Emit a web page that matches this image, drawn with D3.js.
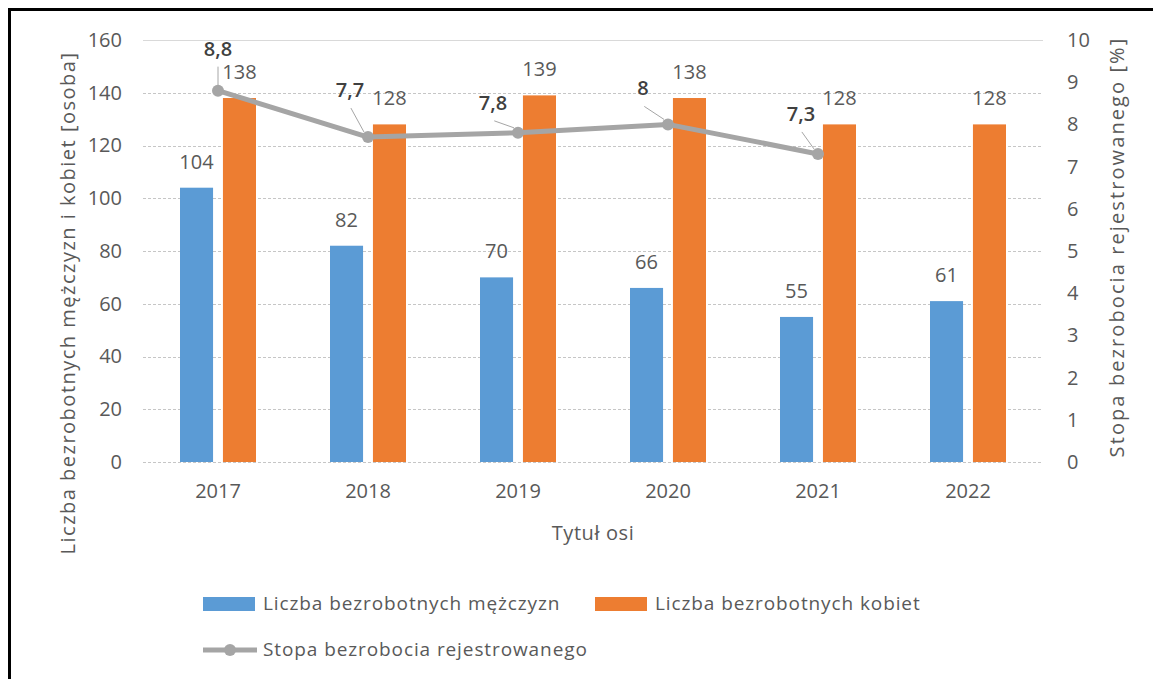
<!DOCTYPE html>
<html lang="pl">
<head>
<meta charset="UTF-8">
<title>Bezrobocie</title>
<script src="https://d3js.org/d3.v7.min.js"></script>
<style>
  body { margin: 0; background: #fff; }
  svg text { font-family: "Open Sans", sans-serif; fill: #595959; }
</style>
</head>
<body>
<svg id="chart" width="1153" height="679"></svg>
<script>
// data
const years = ["2017", "2018", "2019", "2020", "2021", "2022"];
const men = [104, 82, 70, 66, 55, 61];
const women = [138, 128, 139, 138, 128, 128];
const rate = [8.8, 7.7, 7.8, 8, 7.3, null];
const leftTicks = [0, 20, 40, 60, 80, 100, 120, 140, 160];
const rightTicks = [0, 1, 2, 3, 4, 5, 6, 7, 8, 9, 10];
const seriesNames = ["Liczba bezrobotnych mężczyzn", "Liczba bezrobotnych kobiet", "Stopa bezrobocia rejestrowanego"];

// manual label placement for the line labels (moved by hand in the original)
const rateLabelShift = [[0, -42], [-18, -47], [-25, -30], [-25, -36], [-17, -40]];

const colors = { men: "#5b9bd5", women: "#ed7d31", line: "#a5a5a5" };

const svg = d3.select("#chart");
const plot = { left: 143, right: 1043, top: 40, bottom: 462 };

// frame
svg.append("line").attr("x1", 8).attr("x2", 1153).attr("y1", 9.5).attr("y2", 9.5)
  .attr("stroke", "#000").attr("stroke-width", 3);
svg.append("line").attr("x1", 9.5).attr("x2", 9.5).attr("y1", 8).attr("y2", 679)
  .attr("stroke", "#000").attr("stroke-width", 3);

const x = d3.scaleBand().domain(years).range([plot.left, plot.right]);
const x1 = d3.scaleBand().domain([0, 1]).range([37, 113]).paddingInner(0.23);
const y = d3.scaleLinear().domain([0, 160]).range([plot.bottom, plot.top]);
const y2 = d3.scaleLinear().domain([0, 10]).range([plot.bottom, plot.top]);

// gridlines
svg.append("g").selectAll("line").data(leftTicks).join("line")
  .attr("x1", plot.left).attr("x2", plot.right)
  .attr("y1", d => Math.round(y(d)) + 0.5).attr("y2", d => Math.round(y(d)) + 0.5)
  .attr("stroke", d => d === 160 ? "#d9d9d9" : "#c6c6c6")
  .attr("stroke-width", 1)
  .attr("stroke-dasharray", d => d === 160 ? null : "3,2");

// left axis
const yAxis = svg.append("g").attr("transform", `translate(${plot.left},0)`)
  .call(d3.axisLeft(y).tickValues(leftTicks).tickSize(0).tickPadding(21));
yAxis.select(".domain").remove();
yAxis.selectAll("text").style("font-size", "20px").attr("fill", "#595959");

// right axis
const yAxis2 = svg.append("g").attr("transform", `translate(${plot.right},0)`)
  .call(d3.axisRight(y2).tickValues(rightTicks).tickSize(0).tickPadding(24));
yAxis2.select(".domain").remove();
yAxis2.selectAll("text").style("font-size", "20px").attr("fill", "#595959");

// x axis
const xAxis = svg.append("g").attr("transform", `translate(0,${plot.bottom})`)
  .call(d3.axisBottom(x).tickSize(0).tickPadding(22));
xAxis.select(".domain").remove();
xAxis.selectAll("text").style("font-size", "20px").attr("fill", "#595959");

// axis titles
svg.append("text").attr("x", 593).attr("y", 540).attr("text-anchor", "middle")
  .style("font-size", "20px").style("letter-spacing", "0.6px").text("Tytuł osi");
svg.append("text").attr("transform", "translate(75,303) rotate(-90)")
  .attr("text-anchor", "middle").style("font-size", "20px").style("letter-spacing", "1.5px")
  .text("Liczba bezrobotnych mężczyzn  i kobiet [osoba]");
svg.append("text").attr("transform", "translate(1124,247) rotate(-90)")
  .attr("text-anchor", "middle").style("font-size", "20px").style("letter-spacing", "2.1px")
  .text("Stopa bezrobocia rejestrowanego [%]");

// bars
const groups = svg.append("g").selectAll("g").data(years).join("g")
  .attr("transform", d => `translate(${x(d)},0)`);
groups.append("rect")
  .attr("x", x1(0)).attr("width", x1.bandwidth())
  .attr("y", (d, i) => y(men[i])).attr("height", (d, i) => y(0) - y(men[i]))
  .attr("fill", colors.men);
groups.append("rect")
  .attr("x", x1(1)).attr("width", x1.bandwidth())
  .attr("y", (d, i) => y(women[i])).attr("height", (d, i) => y(0) - y(women[i]))
  .attr("fill", colors.women);
groups.append("text")
  .attr("x", x1(0) + x1.bandwidth() / 2).attr("y", (d, i) => y(men[i]) - 19)
  .attr("text-anchor", "middle").style("font-size", "20px")
  .text((d, i) => men[i]);
groups.append("text")
  .attr("x", x1(1) + x1.bandwidth() / 2).attr("y", (d, i) => y(women[i]) - 19)
  .attr("text-anchor", "middle").style("font-size", "20px")
  .text((d, i) => women[i]);

// line
const pts = years.map((d, i) => ({ year: d, v: rate[i], i })).filter(d => d.v != null);
const cx = d => x(d.year) + x.bandwidth() / 2;
svg.append("path").datum(pts)
  .attr("d", d3.line().x(cx).y(d => y2(d.v)))
  .attr("fill", "none").attr("stroke", colors.line).attr("stroke-width", 5)
  .attr("stroke-linejoin", "round");
svg.append("g").selectAll("circle").data(pts).join("circle")
  .attr("cx", cx).attr("cy", d => y2(d.v)).attr("r", 6).attr("fill", colors.line);

// leader lines + labels
const fmt = v => String(v).replace(".", ",");
const lbl = svg.append("g").selectAll("g").data(pts).join("g");
lbl.append("line")
  .attr("x1", d => cx(d) + rateLabelShift[d.i][0] * (d.i === 0 ? 1 : 0.95))
  .attr("y1", d => y2(d.v) + rateLabelShift[d.i][1] + 18)
  .attr("x2", d => cx(d) - (d.i === 0 ? 0 : 4))
  .attr("y2", d => y2(d.v) - 5)
  .attr("stroke", "#a6a6a6").attr("stroke-width", 1);
lbl.append("text")
  .attr("x", d => cx(d) + rateLabelShift[d.i][0])
  .attr("y", d => y2(d.v) + rateLabelShift[d.i][1] + 7)
  .attr("text-anchor", "middle")
  .style("font-size", "20px").style("font-weight", "600").style("fill", "#404040")
  .text(d => fmt(d.v));

// legend
const legend = svg.append("g");
const items = [
  { name: seriesNames[0], type: "rect", color: colors.men, x: 203, y: 604 },
  { name: seriesNames[1], type: "rect", color: colors.women, x: 595, y: 604 },
  { name: seriesNames[2], type: "line", color: colors.line, x: 203, y: 650 }
];
items.forEach(it => {
  if (it.type === "rect") {
    legend.append("rect").attr("x", it.x).attr("y", it.y - 7).attr("width", 52).attr("height", 14)
      .attr("fill", it.color);
  } else {
    legend.append("line").attr("x1", it.x).attr("x2", it.x + 54).attr("y1", it.y).attr("y2", it.y)
      .attr("stroke", it.color).attr("stroke-width", 5);
    legend.append("circle").attr("cx", it.x + 27).attr("cy", it.y).attr("r", 6).attr("fill", it.color);
  }
  legend.append("text").attr("x", it.x + 60).attr("y", it.y + 6)
    .style("font-size", "19px").style("letter-spacing", "0.9px").text(it.name);
});
</script>
</body>
</html>
